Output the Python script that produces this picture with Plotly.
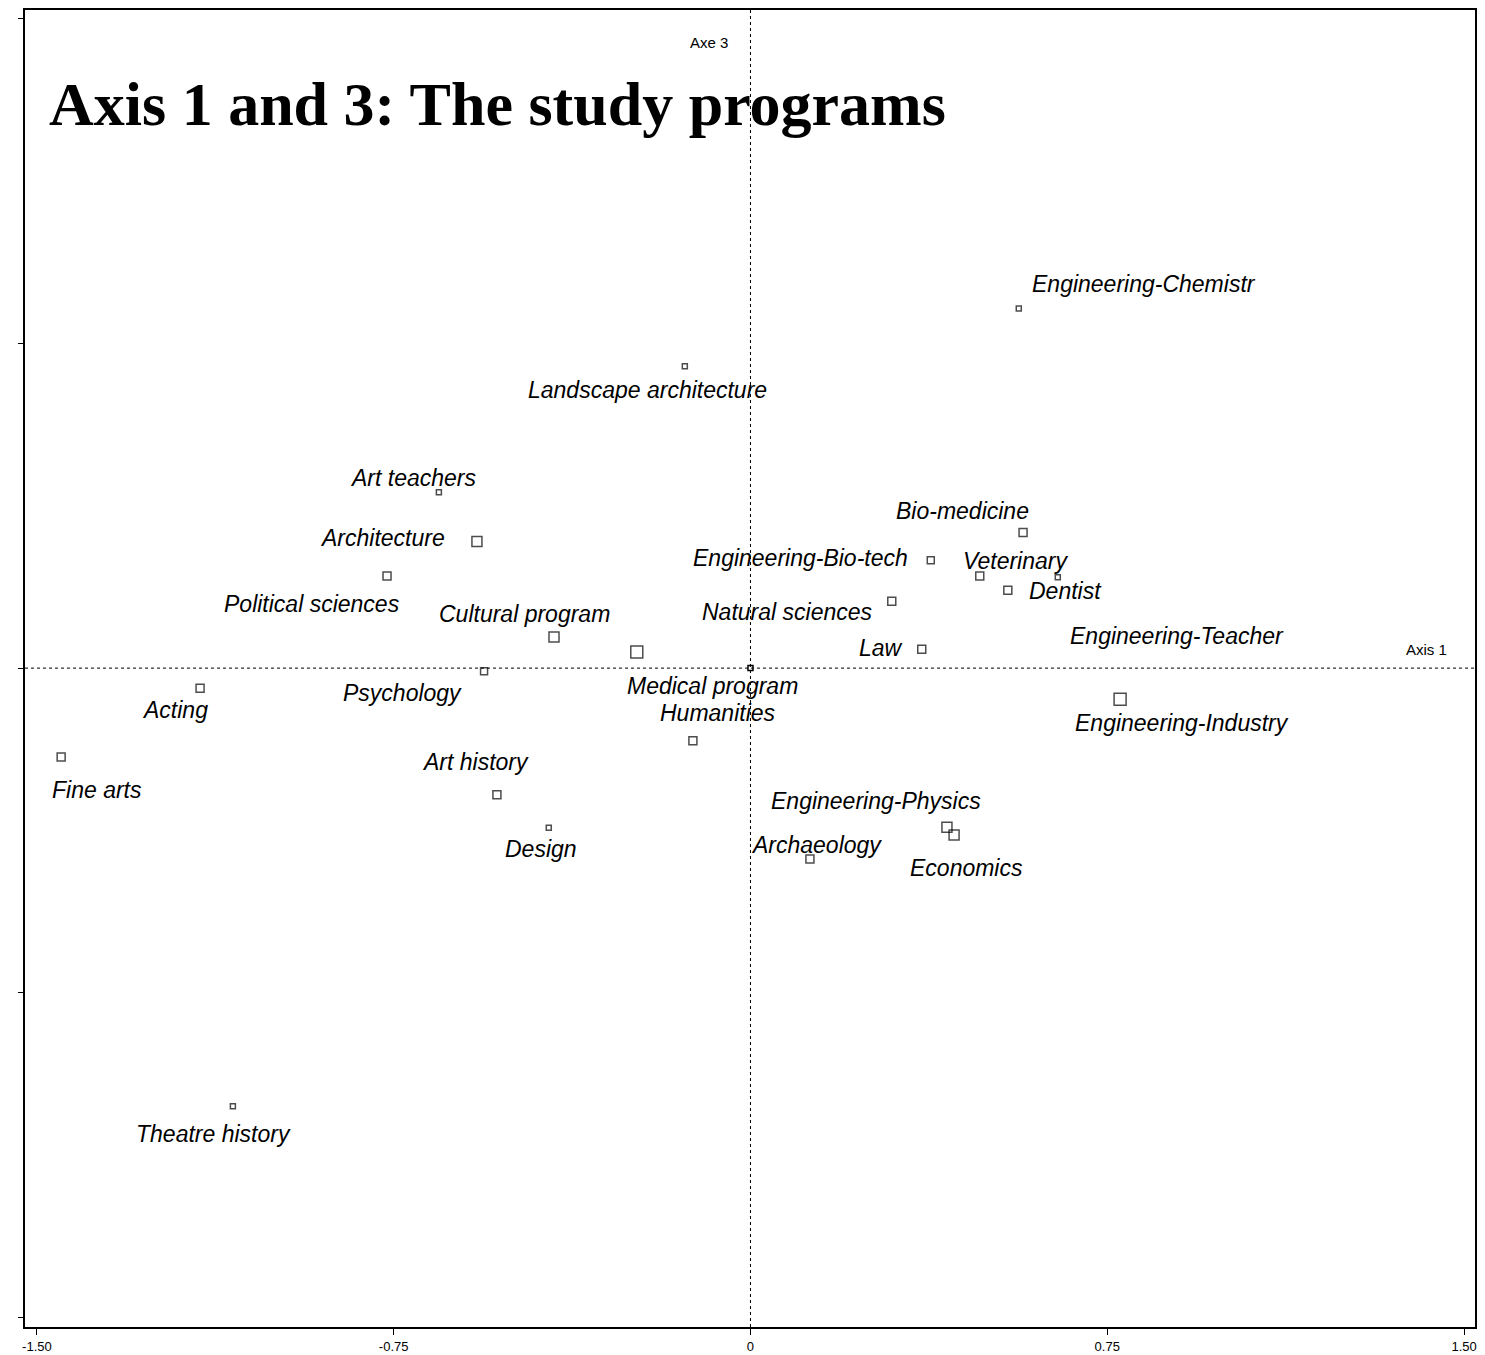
import plotly.graph_objects as go

# Study programs: coordinates on axis 1 (x) and axis 3 (y), marker weight
programs = ["Engineering-Chemistr", "Landscape architecture", "Art teachers", "Architecture",
            "Political sciences", "Cultural program", "Medical program", "Psychology", "Acting",
            "Fine arts", "Humanities", "Art history", "Design", "Bio-medicine",
            "Engineering-Bio-tech", "Veterinary", "Dentist", "Engineering-Teacher",
            "Natural sciences", "Law", "Engineering-Industry", "Engineering-Physics",
            "Economics", "Archaeology", "Theatre history"]
axis1 = [0.564, -0.138, -0.655, -0.575, -0.764, -0.413, -0.239, -0.560, -1.157,
         -1.449, -0.121, -0.533, -0.424, 0.573, 0.379, 0.482, 0.541, 0.646,
         0.297, 0.360, 0.777, 0.413, 0.428, 0.125, -1.088]
axis3 = [0.554, 0.465, 0.271, 0.195, 0.142, 0.048, 0.025, -0.005, -0.031,
         -0.137, -0.112, -0.195, -0.246, 0.209, 0.166, 0.142, 0.120, 0.140,
         0.103, 0.029, -0.048, -0.245, -0.257, -0.294, -0.675]
weight = [5, 5, 5, 10, 8, 10, 12, 7, 8, 8, 8, 8, 5, 8, 7, 8, 8, 5, 8, 8, 12, 10, 10, 8, 5]

x_tickvals = [-1.5, -0.75, 0, 0.75, 1.5]
x_ticktext = ["-1.50", "-0.75", "0", "0.75", "1.50"]
y_tickvals = [-1.0, -0.5, 0, 0.5, 1.0]

# label offsets in pixels (dx right, dy down) relative to the point
label_offsets = [(11, -24, "left"), (-37, 24, "center"), (-26, -14, "center"), (-94, -4, "center"),
                 (-75, 28, "center"), (-30, -23, "center"), (76, 34, "center"), (-82, 22, "center"),
                 (-25, 22, "center"), (36, 33, "center"), (25, -28, "center"), (-21, -33, "center"),
                 (-8, 21, "center"), (-61, -21, "center"), (-130, -2, "center"), (36, -15, "center"),
                 (58, 1, "center"), (119, 59, "center"), (-104, 11, "center"), (-41, -1, "center"),
                 (62, 24, "center"), (-71, -26, "center"), (12, 33, "center"), (7, -14, "center"),
                 (-19, 28, "center")]

fig = go.Figure()
fig.add_trace(go.Scatter(
    x=axis1, y=axis3, mode="markers",
    marker=dict(symbol="square-open", size=weight, color="black", line=dict(width=1.5, color="black")),
    hovertext=programs, showlegend=False))
# centroid marker at origin
fig.add_trace(go.Scatter(
    x=[0], y=[0], mode="markers",
    marker=dict(symbol="square-open", size=5, color="black", line=dict(width=1.5, color="black")),
    showlegend=False, hoverinfo="skip"))

annotations = []
for name, xv, yv, (dx, dy, anc) in zip(programs, axis1, axis3, label_offsets):
    annotations.append(dict(
        x=xv, y=yv, xref="x", yref="y", text="<i>" + name + "</i>", showarrow=False,
        xshift=dx, yshift=-dy, xanchor=anc, yanchor="middle",
        font=dict(family="Liberation Sans, Arial", size=23, color="black")))

annotations.append(dict(
    x=0.0155, y=0.929, xref="paper", yref="paper", text="<b>Axis 1 and 3: The study programs</b>",
    showarrow=False, xanchor="left", yanchor="middle",
    font=dict(family="Liberation Serif, Times New Roman, serif", size=62, color="black")))
annotations.append(dict(
    x=0, y=1, xref="x", yref="paper", text="Axe 3", showarrow=False, xanchor="right",
    yanchor="middle", xshift=-20, yshift=-32,
    font=dict(family="Liberation Sans, Arial", size=15, color="black")))
annotations.append(dict(
    x=1, y=0, xref="paper", yref="y", text="Axis 1", showarrow=False, xanchor="right",
    yanchor="middle", xshift=-26, yshift=19,
    font=dict(family="Liberation Sans, Arial", size=15, color="black")))

shapes = [
    dict(type="line", xref="x", yref="paper", x0=0, x1=0, y0=0, y1=1,
         line=dict(color="black", width=1, dash="dot")),
    dict(type="line", xref="paper", yref="y", x0=0, x1=1, y0=0, y1=0,
         line=dict(color="black", width=1, dash="dot")),
]

fig.update_layout(
    width=1477, height=1347,
    margin=dict(l=17, r=10, t=0, b=28),
    plot_bgcolor="white", paper_bgcolor="white",
    annotations=annotations, shapes=shapes,
    xaxis=dict(range=[-1.525, 1.523], tickvals=x_tickvals, ticktext=x_ticktext,
               showgrid=False, zeroline=False, showline=True, mirror=True,
               linecolor="black", linewidth=2, ticks="outside", ticklen=6,
               tickcolor="black", tickfont=dict(family="Liberation Sans, Arial", size=13, color="black")),
    yaxis=dict(range=[-1.015, 1.0138], tickvals=y_tickvals, showticklabels=False,
               showgrid=False, zeroline=False, showline=True, mirror=True,
               linecolor="black", linewidth=2, ticks="outside", ticklen=5, tickcolor="black"),
)

fig.write_html("out.html")
